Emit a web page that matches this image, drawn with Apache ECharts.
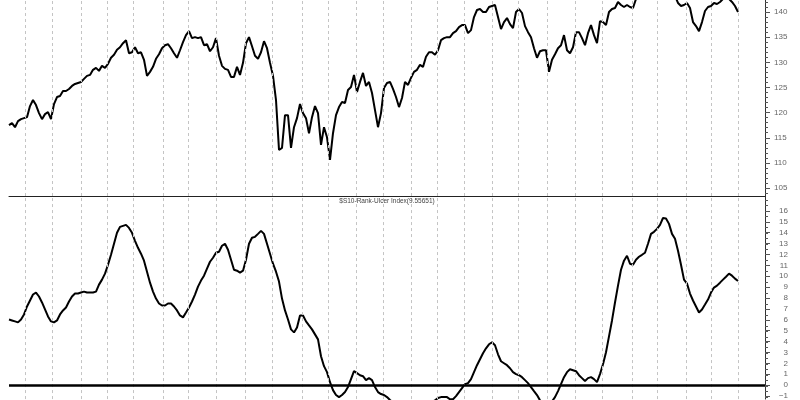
<!DOCTYPE html>
<html><head><meta charset="utf-8">
<script src="https://cdn.jsdelivr.net/npm/echarts@6/dist/echarts.min.js"></script>
<style>html,body{margin:0;padding:0;background:#fff}#c{width:800px;height:400px}</style>
</head><body><div id="c"></div>
<script>
// Price panel (sampled left to right)
const price = [
117.5,117.9,117.1,118.3,118.7,118.9,119.1,121.3,122.5,121.5,
119.9,118.7,119.7,120.1,118.7,121.7,123.1,123.3,124.3,124.3,
124.7,125.3,125.7,125.9,126.1,126.7,127.3,127.5,128.5,128.9,
128.3,129.3,128.9,129.7,130.9,131.5,132.5,133.0,133.8,134.4,
131.8,132.0,133.0,131.8,132.0,130.5,127.3,128.1,129.1,130.7,
131.6,132.8,133.4,133.6,132.8,131.8,130.9,132.4,134.0,135.4,
136.2,134.8,135.0,134.8,135.0,133.4,133.6,132.2,133.0,134.8,
131.3,129.3,128.7,128.5,127.1,127.1,129.1,127.5,129.9,133.8,
135.0,133.2,131.3,130.7,132.0,134.2,132.8,129.9,127.3,122.5,
112.6,113.0,119.5,119.5,113.0,117.1,118.9,121.7,119.9,118.9,
115.9,119.1,121.3,119.9,113.6,117.1,115.1,110.6,115.9,119.5,
121.1,122.1,121.9,124.5,125.1,127.5,124.1,126.1,127.9,125.3,
126.1,123.9,120.5,117.1,119.9,124.9,125.9,126.1,124.7,123.1,
121.1,122.9,126.1,125.5,126.9,128.1,128.5,129.5,129.1,131.1,
132.0,132.0,131.5,132.4,134.4,134.8,135.0,135.0,135.8,136.2,
137.0,137.4,137.4,135.8,136.4,139.0,140.4,140.6,140.0,140.0,
141.0,141.2,141.4,139.0,136.6,138.0,138.8,137.6,136.8,140.0,
140.6,139.8,137.2,136.0,135.0,132.8,130.9,132.2,132.4,132.4,
128.1,130.5,131.6,132.8,133.4,135.4,132.4,131.8,133.0,136.0,
136.0,134.8,133.4,135.8,137.4,135.4,133.8,138.2,138.0,137.4,
140.0,140.6,140.8,142.0,141.4,141.0,141.4,141.0,140.8,142.6,
143.5,144.2,144.8,145.0,145.5,145.2,145.8,146.0,145.4,145.0,
144.6,144.0,143.2,141.8,141.2,141.4,141.8,140.8,138.0,137.2,
136.2,138.0,140.2,141.0,141.2,141.8,141.6,142.0,142.6,142.8,
142.6,142.0,141.2,140.0
];
// Ulcer index rank panel
const ulcer = [
6.03,5.94,5.85,5.76,6.03,6.49,7.22,7.77,8.32,8.50,
8.14,7.59,6.95,6.31,5.85,5.76,5.94,6.49,6.86,7.13,
7.68,8.14,8.41,8.41,8.50,8.59,8.50,8.50,8.50,8.59,
9.23,9.69,10.24,11.06,11.97,12.98,13.99,14.53,14.63,14.72,
14.44,13.99,13.25,12.61,12.07,11.43,10.42,9.41,8.59,7.95,
7.50,7.31,7.31,7.50,7.50,7.22,6.86,6.40,6.22,6.67,
7.13,7.68,8.32,9.05,9.60,10.05,10.69,11.33,11.70,12.16,
12.25,12.80,12.98,12.43,11.52,10.60,10.51,10.33,10.51,11.52,
12.98,13.53,13.62,13.89,14.17,13.89,12.98,12.07,11.15,10.42,
9.51,7.95,6.86,6.03,5.12,4.84,5.30,6.40,6.40,5.85,
5.48,5.12,4.66,4.20,2.65,1.74,1.19,0.27,-0.46,-0.91,
-1.10,-0.91,-0.64,-0.18,0.55,1.28,1.10,0.91,0.82,0.46,
0.64,0.46,-0.18,-0.64,-0.82,-0.91,-1.10,-1.37,-1.6,-1.8,
-2.0,-2.1,-2.2,-2.3,-2.3,-2.2,-2.2,-2.1,-2.0,-1.9,
-1.7,-1.55,-1.4,-1.19,-1.10,-1.10,-1.10,-1.3,-1.3,-1.01,
-0.64,-0.27,0.09,0.18,0.55,1.19,1.83,2.38,2.93,3.38,
3.75,3.93,3.66,2.83,2.19,2.01,1.83,1.55,1.19,1.01,
0.91,0.73,0.46,0.18,-0.18,-0.55,-0.91,-1.4,-1.7,-1.9,
-1.8,-1.5,-1.10,-0.55,0.09,0.73,1.19,1.46,1.37,1.28,
0.91,0.64,0.37,0.64,0.73,0.55,0.27,1.01,1.92,3.02,
4.48,5.94,7.59,9.14,10.60,11.43,11.88,11.15,11.06,11.52,
11.79,11.97,12.16,12.98,13.89,14.08,14.35,14.72,15.35,15.3,
14.81,13.89,13.44,12.34,11.06,9.69,9.32,8.41,7.77,7.22,
6.67,6.95,7.40,7.86,8.50,8.96,9.14,9.41,9.69,9.96,
10.24,10.05,9.78,9.56
];
// Month boundaries (in sample index units)
const monthBreaks = [5.4,14.5,24.2,32.9,41.4,51.4,59.9,69.2,78.8,87.6,97.6,106.4,115.9,124.8,
  134.2,142.9,151.7,161.2,169.8,179.4,188.7,197.9,207.8,216.2,225.6,234.2,243.1];
const priceTicks = [105,110,115,120,125,130,135,140];
const ulcerTicks = [-1,0,1,2,3,4,5,6,7,8,9,10,11,12,13,14,15,16];
const titleText = '$S10-Rank-Ulcer Index(9.55651)';

const priceMinor = []; for (let v = 104; v <= 142; v++) priceMinor.push(v);
const ulcerMinor = []; for (let v = -1; v <= 17; v += 0.5) ulcerMinor.push(v);

const X_MAX = 252;
const P_MIN = 103.42, P_MAX = 142.39, U_MIN = -1.28, U_MAX = 17.37;
const gridMarks = monthBreaks.map(x => ({xAxis: x}));
const gridLineStyle = {color: '#c4c4c4', width: 1, type: [3, 3]};
const font = 'Liberation Sans, Arial, sans-serif';
const hiddenX = g => ({type: 'value', gridIndex: g, min: 0, max: X_MAX, show: false});
const minorY = (g, mn, mx, vals) => ({type: 'value', gridIndex: g, position: 'right', min: mn, max: mx,
  axisLine: {show: false, onZero: false}, axisLabel: {show: false}, splitLine: {show: false},
  axisTick: {show: true, length: 3, customValues: vals, lineStyle: {color: '#555'}}});

const chart = echarts.init(document.getElementById('c'), null, {renderer: 'canvas'});
chart.setOption({
  animation: false,
  backgroundColor: '#fff',
  grid: [
    {left: 9, right: 35, top: 0, height: 196},
    {left: 9, right: 35, top: 196, height: 204},
    {left: 9, right: 35, top: 0, height: 196},
    {left: 9, right: 35, top: 196, height: 204}
  ],
  xAxis: [
    {type: 'value', gridIndex: 0, min: 0, max: X_MAX,
     axisLine: {show: true, onZero: false, lineStyle: {color: '#222', width: 1}},
     axisTick: {show: false}, axisLabel: {show: false}, splitLine: {show: false}},
    {type: 'value', gridIndex: 1, min: 0, max: X_MAX,
     axisLine: {show: false, onZero: false}, axisTick: {show: false}, axisLabel: {show: false}, splitLine: {show: false}},
    hiddenX(2), hiddenX(3)
  ],
  yAxis: [
    {type: 'value', gridIndex: 0, position: 'right', min: P_MIN, max: P_MAX,
     axisLine: {show: true, onZero: false, lineStyle: {color: '#333'}},
     axisTick: {show: true, length: 5, customValues: priceTicks, lineStyle: {color: '#555'}},
     axisLabel: {show: true, customValues: priceTicks, margin: 9, fontSize: 8, color: '#666', fontFamily: font},
     splitLine: {show: false}},
    {type: 'value', gridIndex: 1, position: 'right', min: U_MIN, max: U_MAX,
     axisLine: {show: true, onZero: false, lineStyle: {color: '#333'}},
     axisTick: {show: true, length: 5, customValues: ulcerTicks, lineStyle: {color: '#555'}},
     axisLabel: {show: true, customValues: ulcerTicks, margin: 23, align: 'right', fontSize: 8, color: '#666', fontFamily: font,
       formatter: v => String(v).replace('-', '\u2212')},
     splitLine: {show: false}},
    minorY(2, P_MIN, P_MAX, priceMinor),
    minorY(3, U_MIN, U_MAX, ulcerMinor)
  ],
  graphic: [{
    type: 'text', x: 387, y: 201, z: 10,
    style: {text: titleText, align: 'center', verticalAlign: 'middle', fontSize: 6.5, fontFamily: font, fill: '#444'}
  }],
  series: [
    {type: 'line', xAxisIndex: 0, yAxisIndex: 0, showSymbol: false, clip: true,
     data: price.map((v, i) => [i, v]),
     lineStyle: {color: '#000', width: 2}, z: 3,
     markLine: {silent: true, symbol: 'none', label: {show: false}, animation: false,
       lineStyle: gridLineStyle, data: gridMarks}},
    {type: 'line', xAxisIndex: 1, yAxisIndex: 1, showSymbol: false, clip: true,
     data: ulcer.map((v, i) => [i, v]),
     lineStyle: {color: '#000', width: 2}, z: 3,
     markLine: {silent: true, symbol: 'none', label: {show: false}, animation: false,
       lineStyle: gridLineStyle,
       data: gridMarks.concat([{yAxis: 0, lineStyle: {color: '#000', width: 2.5, type: 'solid'}}])}}
  ]
});
</script></body></html>
